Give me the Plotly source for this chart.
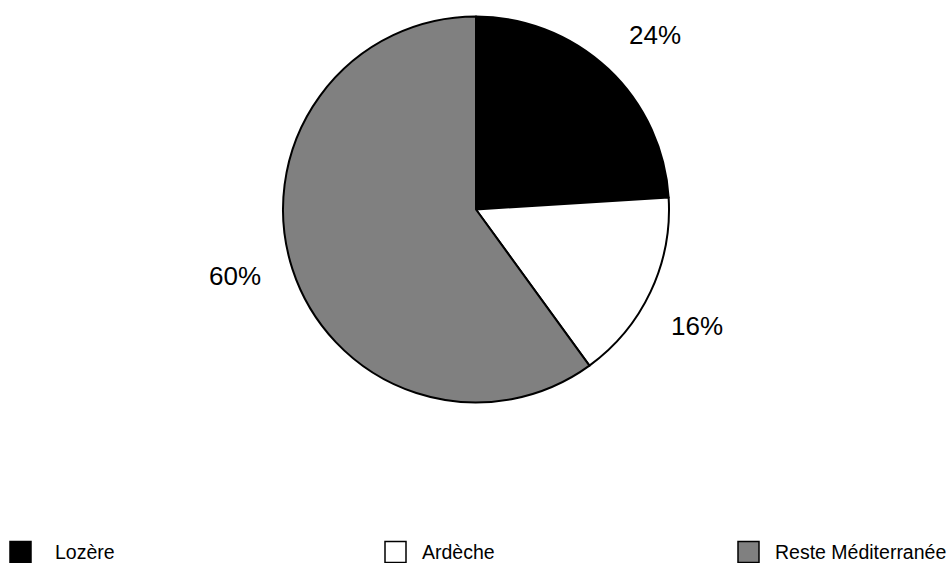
import math
import plotly.graph_objects as go

# Répartition (en %)
categories = ["Lozère", "Ardèche", "Reste Méditerranée"]
values = [24, 16, 60]
colors = ["#000000", "#ffffff", "#808080"]

W, H = 948, 563
cx, cy, R = 476, 209.5, 193          # pie centre and radius in pixels
label_r = 250                        # radius where the percentage labels sit
label_turn = 2.5                     # small clockwise turn of the label positions (deg)

fig = go.Figure(go.Pie(
    labels=categories,
    values=values,
    sort=False,
    direction="clockwise",
    rotation=0,
    marker=dict(colors=colors, line=dict(color="#000000", width=2)),
    textinfo="none",
    hoverinfo="label+percent",
    showlegend=False,
    domain=dict(x=[(cx - R) / W, (cx + R) / W],
                y=[1 - (cy + R) / H, 1 - (cy - R) / H]),
))

# Percentage labels placed along each slice's mid-angle
total = sum(values)
cum = 0
annotations = []
for v in values:
    mid = (cum + v / 2) / total * 2 * math.pi + math.radians(label_turn)
    cum += v
    px = cx + label_r * math.sin(mid)
    py = cy - label_r * math.cos(mid)
    annotations.append(dict(
        x=px / W, y=1 - py / H, xref="paper", yref="paper",
        text=f"{round(v / total * 100)}%", showarrow=False,
        font=dict(family="Liberation Sans, Arial", size=26, color="#000000"),
        xanchor="center", yanchor="middle",
    ))

# Legend row along the bottom
square_x = [10, 385, 738]
text_x = [53, 420, 773]
legend_y = 552
sq = 21
shapes = []
for name, col, sx, tx in zip(categories, colors, square_x, text_x):
    shapes.append(dict(
        type="rect", xref="paper", yref="paper",
        x0=sx / W, x1=(sx + sq) / W,
        y0=1 - (legend_y + sq / 2) / H, y1=1 - (legend_y - sq / 2) / H,
        fillcolor=col, line=dict(color="#000000", width=1.5),
    ))
    annotations.append(dict(
        x=tx / W, y=1 - legend_y / H, xref="paper", yref="paper",
        text=name, showarrow=False,
        font=dict(family="Liberation Sans, Arial", size=19.5, color="#000000"),
        xanchor="left", yanchor="middle",
    ))

fig.update_layout(
    width=W, height=H,
    margin=dict(l=0, r=0, t=0, b=0),
    paper_bgcolor="#ffffff",
    plot_bgcolor="#ffffff",
    annotations=annotations,
    shapes=shapes,
)

fig.write_html("out.html")
